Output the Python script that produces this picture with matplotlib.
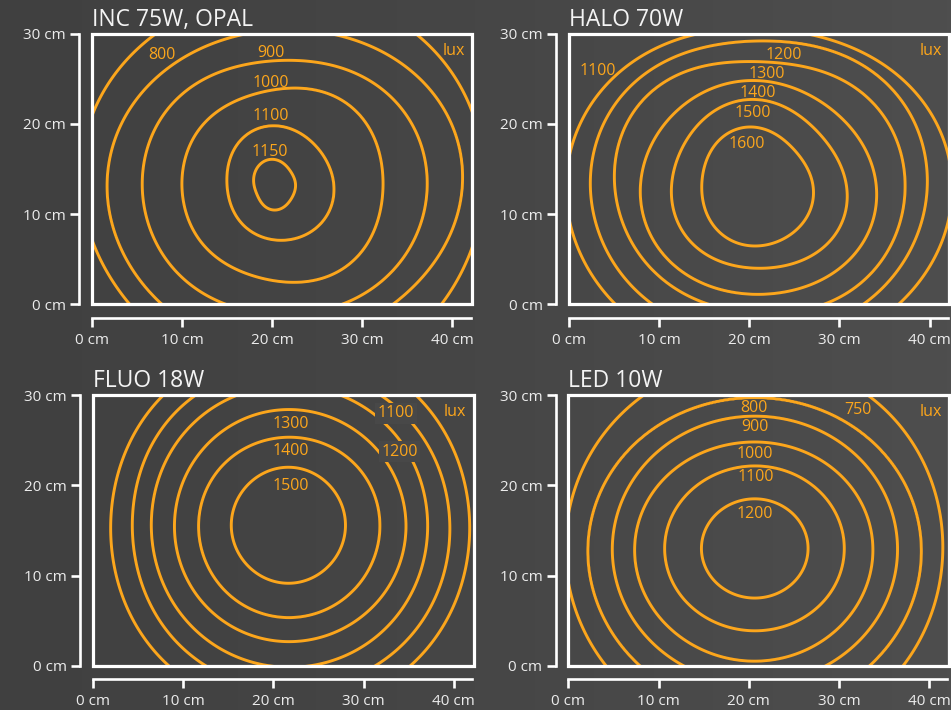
import numpy as np
import matplotlib
matplotlib.use("Agg")
import matplotlib.pyplot as plt
from matplotlib.patches import Rectangle

# ---------------- data ----------------
# Iso-lux lines: distance (cm) from the spot centre to each line, read in
# 8 directions: E, NE, N, NW, W, SW, S, SE
inc_title = "INC 75W, OPAL"
inc_center = (20.3, 13.2)
inc_levels = [1150, 1100, 1000, 900, 800, 700]
inc_radii = [
    [2.3, 2.35, 2.85, 2.75, 2.3, 2.35, 2.75, 2.4],
    [6.55, 6.3, 6.6, 6.1, 5.3, 5.55, 6.07, 6.6],
    [12.0, 12.15, 10.6, 10.4, 10.3, 10.3, 10.6, 12.05],
    [16.9, 15.8, 13.8, 14.4, 14.7, 14.5, 14.3, 15.8],
    [20.8, 19.4, 17.2, 17.65, 18.6, 18.2, 18.0, 18.6],
    [23.2, 23.0, 21.5, 21.45, 21.5, 20.8, 21.8, 22.6],
]
inc_labels = [800, 900, 1000, 1100, 1150]

halo_title = "HALO 70W"
halo_center = (20.9, 13.1)
halo_levels = [1600, 1500, 1400, 1300, 1200, 1100]
halo_radii = [
    [6.19, 5.75, 6.5, 6.55, 6.15, 6.55, 6.63, 6.5],
    [9.9, 9.0, 9.6, 9.44, 9.5, 9.56, 9.1, 9.95],
    [13.2, 11.86, 11.7, 12.18, 12.95, 12.7, 12.0, 12.9],
    [16.4, 15.4, 13.8, 15.6, 15.8, 14.7, 14.1, 15.66],
    [18.85, 18.0, 16.1, 17.6, 18.5, 17.6, 16.7, 17.7],
    [21.6, 19.35, 17.5, 19.5, 21.2, 20.3, 19.3, 20.2],
]
halo_labels = [1100, 1200, 1300, 1400, 1500, 1600]

fluo_title = "FLUO 18W"
fluo_center = (21.66, 15.57)
fluo_levels = [1500, 1400, 1300, 1200, 1100, 1000]
fluo_radii = [
    [6.33, 6.35, 6.43, 6.35, 6.33, 6.35, 6.43, 6.35],
    [10.15, 10.0, 9.76, 9.85, 9.96, 10.1, 10.24, 10.2],
    [13.04, 12.9, 12.83, 12.7, 12.63, 12.8, 12.9, 13.0],
    [15.44, 15.55, 15.5, 15.45, 15.2, 15.5, 15.75, 15.7],
    [17.9, 17.75, 17.5, 17.7, 17.3, 17.9, 18.2, 18.3],
    [20.1, 20.2, 20.0, 20.0, 19.7, 20.4, 20.6, 20.6],
]
fluo_labels = [1100, 1200, 1300, 1400, 1500]

led_title = "LED 10W"
led_center = (20.67, 13.0)
led_levels = [1200, 1100, 1000, 900, 800, 750]
led_radii = [
    [5.91, 5.69, 5.5, 5.69, 5.91, 5.69, 5.5, 5.69],
    [9.93, 9.52, 9.15, 9.52, 9.99, 9.52, 9.13, 9.52],
    [13.1, 12.4, 11.8, 12.49, 13.32, 12.89, 12.5, 12.79],
    [15.83, 15.22, 14.67, 15.2, 15.79, 15.4, 15.0, 15.4],
    [18.46, 17.51, 16.7, 17.52, 18.49, 18.2, 17.95, 18.2],
    [20.85, 21.1, 21.0, 21.0, 21.0, 21.0, 21.0, 21.0],
]
led_labels = [800, 900, 1000, 1100, 1200, 750]

tick_values = [0, 10, 20, 30, 40]
tick_labels = ["0 cm", "10 cm", "20 cm", "30 cm", "40 cm"]
ytick_values = [0, 10, 20, 30]
ytick_labels = ["0 cm", "10 cm", "20 cm", "30 cm"]
unit_text = "lux"

# ---------------- layout / style ----------------
inc_label_pos = [(7.8, 27.8), (19.9, 28.06), (19.9, 24.8), (19.9, 21.1), (19.8, 17.1)]
halo_label_pos = [(3.26, 26.1), (23.9, 27.9), (22.0, 25.7), (21.0, 23.6), (20.4, 21.4), (19.8, 18.0)]
fluo_label_pos = [(33.6, 28.2), (34.0, 23.95), (21.9, 27.0), (21.9, 24.0), (21.9, 20.1)]
led_label_pos = [(20.6, 28.8), (20.65, 26.7), (20.7, 23.7), (20.8, 21.1), (20.65, 17.0), (32.1, 28.6)]
masked_labels = {"FLUO 18W": [1100, 1200]}

ORANGE = "#fca61c"
WHITE = "#ffffff"
TXT = "#ececec"
FONT = ["Open Sans", "DejaVu Sans"]
plt.rcParams["font.family"] = FONT

W, H = 951, 710
S = 9.02          # px per cm
XMAX = 42.2
origins = [(91.7, 304.3), (568.7, 304.3), (93.0, 665.7), (568.3, 665.7)]


def ring_radius(samples, th):
    s = np.asarray(samples, float)
    n = len(s)
    F = np.fft.rfft(s)
    r = np.full_like(th, F[0].real / n)
    for k in range(1, n // 2):
        r += 2.0 / n * (F[k].real * np.cos(k * th) - F[k].imag * np.sin(k * th))
    r += F[n // 2].real / n * np.cos(n // 2 * th)
    return r


def lux_field(center, levels, radii, X, Y):
    dx = X - center[0]
    dy = Y - center[1]
    d = np.hypot(dx, dy)
    th = np.arctan2(dy, dx)
    R = np.array([ring_radius(r, th) for r in radii])
    L = np.asarray(levels, float)
    out = np.empty_like(d)
    m = d <= R[0]
    out[m] = L[0] + (L[0] - L[1]) * (R[0][m] - d[m]) / np.maximum(R[1][m] - R[0][m], 1e-6)
    for k in range(len(L) - 1):
        m = (d > R[k]) & (d <= R[k + 1])
        out[m] = L[k] + (d[m] - R[k][m]) / (R[k + 1][m] - R[k][m]) * (L[k + 1] - L[k])
    m = d > R[-1]
    out[m] = L[-1] + (d[m] - R[-1][m]) / (R[-1][m] - R[-2][m]) * (L[-1] - L[-2])
    return out


fig = plt.figure(figsize=(W / 100, H / 100), dpi=100)
fig.patch.set_facecolor("#474747")

# subtle background shading
bg = fig.add_axes([0, 0, 1, 1], zorder=-10)
grad = np.linspace(0, 1, 256)[None, :]
bg.imshow(grad, aspect="auto", cmap=matplotlib.colors.LinearSegmentedColormap.from_list(
    "bg", ["#404040", "#464646", "#4e4e4e"]), extent=[0, 1, 0, 1])
bg.set_axis_off()

panels = [
    (inc_title, inc_center, inc_levels, inc_radii, inc_labels, inc_label_pos),
    (halo_title, halo_center, halo_levels, halo_radii, halo_labels, halo_label_pos),
    (fluo_title, fluo_center, fluo_levels, fluo_radii, fluo_labels, fluo_label_pos),
    (led_title, led_center, led_levels, led_radii, led_labels, led_label_pos),
]

xs = np.linspace(-1, XMAX + 1, 500)
ys = np.linspace(-1, 31, 380)
X, Y = np.meshgrid(xs, ys)

for (title, center, levels, radii, labels, lpos), (ox, oy) in zip(panels, origins):
    ax = fig.add_axes([ox / W, 1 - oy / H, XMAX * S / W, 30 * S / H])
    ax.set_facecolor("none")
    ax.set_xlim(0, XMAX)
    ax.set_ylim(0, 30)

    Z = lux_field(center, levels, radii, X, Y)
    ax.contour(X, Y, Z, levels=sorted(levels), colors=ORANGE, linewidths=2.1)

    ax.add_patch(Rectangle((0, 0), XMAX, 30, fill=False, edgecolor=WHITE,
                           linewidth=2.3, clip_on=False, zorder=5))

    for sp in ["top", "right"]:
        ax.spines[sp].set_visible(False)
    ax.spines["left"].set_position(("outward", 9.2))
    ax.spines["bottom"].set_position(("outward", 9.6))
    ax.spines["left"].set_bounds(0, 30)
    ax.spines["bottom"].set_bounds(0, 42)
    for sp in ["left", "bottom"]:
        ax.spines[sp].set_color(WHITE)
        ax.spines[sp].set_linewidth(1.9)
        ax.spines[sp].set_capstyle("projecting")

    ax.set_xticks(tick_values)
    ax.set_xticklabels(tick_labels)
    ax.set_yticks(ytick_values)
    ax.set_yticklabels(ytick_labels)
    ax.tick_params(axis="both", direction="out", length=6.5, width=1.9,
                   color=WHITE, labelcolor=TXT, labelsize=11)
    ax.tick_params(axis="x", pad=4.5)
    ax.tick_params(axis="y", pad=3)
    for t in ax.get_yticklabels():
        t.set_verticalalignment("center_baseline")

    ax.text(0, 30.85, title, fontsize=16.5, color="#f4f4f4", ha="left", va="baseline")
    ax.text(41.4, 27.64, unit_text, fontsize=11.5, color=ORANGE, ha="right", va="baseline", zorder=6)

    masked = masked_labels.get(title, [])
    for lev, (lx, ly) in zip(labels, lpos):
        kw = {}
        if lev in masked:
            kw["bbox"] = dict(boxstyle="square,pad=0.15", facecolor="#484848", edgecolor="none")
        ax.text(lx, ly - 0.66, str(lev), fontsize=11.5, color=ORANGE,
                ha="center", va="baseline", zorder=6, **kw)

fig.savefig("out.png", dpi=100, facecolor=fig.get_facecolor())
